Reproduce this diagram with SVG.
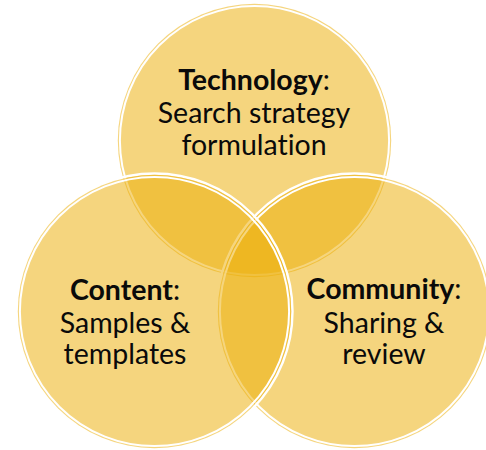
<svg xmlns="http://www.w3.org/2000/svg" width="486" height="450" viewBox="0 0 486 450">
<style>
.fill{fill:#EBAF07;fill-opacity:0.52;stroke:none}
.outer{fill:none;stroke:#FFFFFF;stroke-width:2.4}
.inner{fill:none;stroke:#FFFFFF;stroke-width:2}
text{font-family:"Lato","Open Sans","Liberation Sans",sans-serif;font-size:28.5px;fill:#0a0a0a;text-anchor:middle;font-variant-ligatures:none;font-feature-settings:"liga" 0}
.b{font-weight:bold}
</style>
<rect width="486" height="450" fill="#FFFFFF"/>
<g id="technology">
<circle class="outer" cx="254.5" cy="140.5" r="138"/>
<circle class="fill" cx="254.5" cy="140.5" r="136.7"/>
<circle class="inner" cx="254.5" cy="140.5" r="134.6"/>
</g>
<g id="community">
<circle class="outer" cx="354.5" cy="311.5" r="138"/>
<circle class="fill" cx="354.5" cy="311.5" r="136.7"/>
<circle class="inner" cx="354.5" cy="311.5" r="134.6"/>
</g>
<g id="content">
<circle class="outer" cx="154.5" cy="311.5" r="138"/>
<circle class="fill" cx="154.5" cy="311.5" r="136.7"/>
<circle class="inner" cx="154.5" cy="311.5" r="134.6"/>
</g>
<g id="labels">
<text x="254" y="90"><tspan class="b">Technology</tspan>:</text>
<text x="254" y="123">Search strategy</text>
<text x="254" y="155">formulation</text>
<text x="125" y="300"><tspan class="b">Content</tspan>:</text>
<text x="125" y="333">Samples &amp;</text>
<text x="125" y="364">templates</text>
<text x="384" y="299"><tspan class="b">Community</tspan>:</text>
<text x="384" y="333">Sharing &amp;</text>
<text x="384" y="364">review</text>
</g>
</svg>
